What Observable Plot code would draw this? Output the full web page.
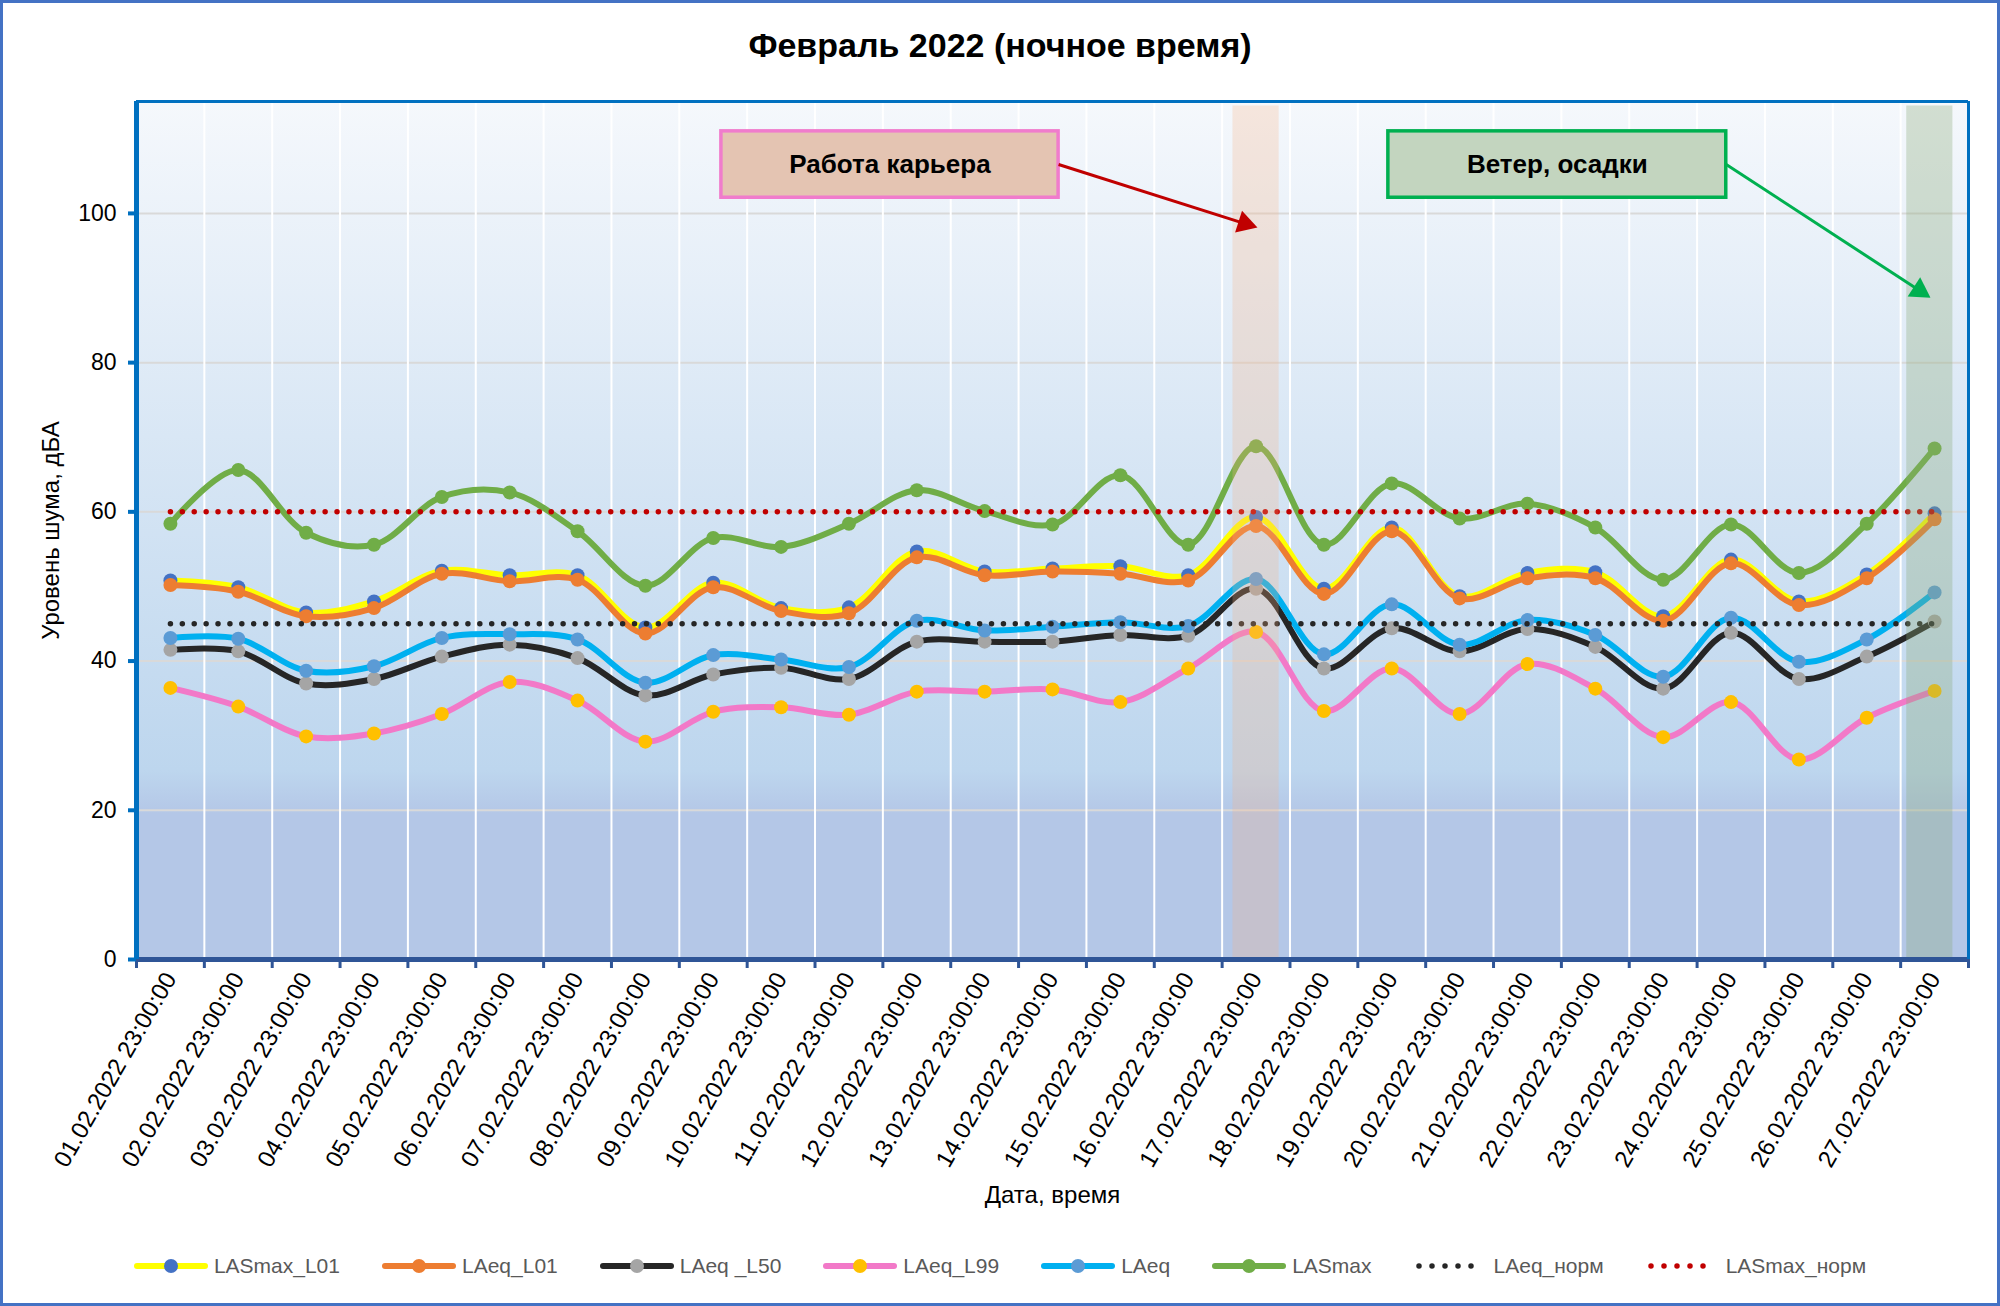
<!DOCTYPE html>
<html>
<head>
<meta charset="utf-8">
<script src="https://cdn.jsdelivr.net/npm/d3@7"></script>
<script src="https://cdn.jsdelivr.net/npm/@observablehq/plot@0.6"></script>
<style>
  html, body { margin: 0; padding: 0; background: #ffffff; }
  #wrap { position: relative; width: 2000px; height: 1306px; overflow: hidden; background: #ffffff;
          font-family: "Liberation Sans", Arial, sans-serif; }
  #border { position: absolute; left: 0; top: 0; width: 2000px; height: 1306px; box-sizing: border-box;
            border: 3px solid #4472c4; pointer-events: none; }
  #title { position: absolute; left: 0; top: 25px; width: 2000px; text-align: center;
           font-weight: bold; font-size: 34px; color: #000; line-height: 40px; }
  #chart { position: absolute; left: 0; top: 0; }
  #legend { position: absolute; left: 0; top: 1254px; width: 2000px; display: flex; justify-content: center;
            align-items: center; gap: 42px; font-size: 21px; color: #595959; }
  .item { display: flex; align-items: center; gap: 6px; }
  .item svg { display: block; }
</style>
</head>
<body>
<div id="wrap">
  <div id="chart"></div>
  <div id="title">Февраль 2022 (ночное время)</div>
  <div id="legend"></div>
  <div id="border"></div>
</div>
<script>
// ---------- data ----------
const dates = [
  "01.02.2022 23:00:00","02.02.2022 23:00:00","03.02.2022 23:00:00","04.02.2022 23:00:00",
  "05.02.2022 23:00:00","06.02.2022 23:00:00","07.02.2022 23:00:00","08.02.2022 23:00:00",
  "09.02.2022 23:00:00","10.02.2022 23:00:00","11.02.2022 23:00:00","12.02.2022 23:00:00",
  "13.02.2022 23:00:00","14.02.2022 23:00:00","15.02.2022 23:00:00","16.02.2022 23:00:00",
  "17.02.2022 23:00:00","18.02.2022 23:00:00","19.02.2022 23:00:00","20.02.2022 23:00:00",
  "21.02.2022 23:00:00","22.02.2022 23:00:00","23.02.2022 23:00:00","24.02.2022 23:00:00",
  "25.02.2022 23:00:00","26.02.2022 23:00:00","27.02.2022 23:00:00"
];
const LASmax_L01 = [50.8,49.9,46.5,48.0,52.1,51.5,51.5,44.5,50.5,47.1,47.2,54.7,52.0,52.4,52.7,51.5,59.3,49.7,57.9,48.7,51.8,51.9,46.0,53.6,48.0,51.6,59.8];
const LAeq_L01   = [50.2,49.3,46.0,47.1,51.7,50.7,50.9,43.7,49.9,46.7,46.4,53.9,51.5,52.0,51.7,50.8,58.1,49.0,57.4,48.4,51.1,51.1,45.4,53.1,47.5,51.1,59.0];
const LAeq_L50   = [41.5,41.3,37.0,37.6,40.6,42.2,40.4,35.4,38.2,39.1,37.6,42.6,42.6,42.6,43.5,43.4,49.7,39.0,44.4,41.3,44.3,41.9,36.3,43.8,37.6,40.6,45.3];
const LAeq_L99   = [36.4,33.9,29.9,30.3,32.9,37.2,34.7,29.2,33.2,33.8,32.8,35.9,35.9,36.2,34.5,39.0,43.9,33.3,39.0,32.9,39.6,36.3,29.8,34.5,26.8,32.4,36.0];
const LAeq       = [43.1,43.0,38.7,39.3,43.1,43.6,42.9,37.1,40.8,40.2,39.2,45.4,44.1,44.6,45.2,44.7,51.0,40.9,47.6,42.2,45.5,43.5,37.9,45.8,39.9,42.9,49.2];
const LASmax     = [58.4,65.6,57.2,55.6,62.0,62.6,57.4,50.1,56.5,55.3,58.4,62.9,60.1,58.3,64.9,55.6,68.8,55.6,63.8,59.1,61.1,57.9,50.9,58.3,51.8,58.4,68.5];
const LAeq_norm   = 45;
const LASmax_norm = 60;
const yTicks = [0, 20, 40, 60, 80, 100];
const yMax = 115;
const highlightDays = ["17.02.2022 23:00:00", "27.02.2022 23:00:00"];
const notes = [
  {text: "Работа карьера", x1: 8.12, x2: 13.09, y1: 102.1, y2: 111.0, ax: 16.02, ay: 98.1},
  {text: "Ветер, осадки",  x1: 17.95, x2: 22.93, y1: 102.1, y2: 111.0, ax: 25.94, ay: 88.7}
];

// ---------- styling ----------
const series = [
  {name: "LASmax_L01", values: LASmax_L01, line: "#ffff00", dot: "#4472c4"},
  {name: "LAeq_L01",   values: LAeq_L01,   line: "#ed7d31", dot: "#ed7d31"},
  {name: "LAeq _L50",  values: LAeq_L50,   line: "#262626", dot: "#a5a5a5"},
  {name: "LAeq_L99",   values: LAeq_L99,   line: "#f279c8", dot: "#ffc000"},
  {name: "LAeq",       values: LAeq,       line: "#00b0f0", dot: "#5b9bd5"},
  {name: "LASmax",     values: LASmax,     line: "#70ad47", dot: "#70ad47"}
];
const norms = [
  {name: "LAeq_норм",   value: LAeq_norm,   color: "#262626"},
  {name: "LASmax_норм", value: LASmax_norm, color: "#c00000"}
];
const noteStyles = [
  {fill: "#e4c4b2", stroke: "#f07ccc", arrow: "#c00000"},
  {fill: "#c3d5bf", stroke: "#00b050", arrow: "#00b050"}
];
const bandStyles = [
  {fill: "#f8b184", opacity: 0.26, left: 0.34, right: 0.34},
  {fill: "#8caa78", opacity: 0.33, left: 0.41, right: 0.27}
];

const W = 2000, H = 1306, mL = 136, mR = 32, mT = 101, mB = 347;
const idx = dates.map((d, i) => i);
const kx = (W - mL - mR) / dates.length;
const ky = (H - mT - mB) / yMax;
const font = "Liberation Sans, Arial, sans-serif";

const background = (index, scales, values, dims) => {
  const g = d3.create("svg:g");
  const lg = g.append("defs").append("linearGradient")
    .attr("id", "bgGrad").attr("x1", 0).attr("y1", 0).attr("x2", 0).attr("y2", 1);
  [[0, "#f5f8fc"], [0.78, "#bdd6ee"], [0.83, "#b4c7e7"], [1, "#b4c7e7"]].forEach(([o, c]) =>
    lg.append("stop").attr("offset", o).attr("stop-color", c));
  g.append("rect")
    .attr("x", dims.marginLeft).attr("y", dims.marginTop)
    .attr("width", dims.width - dims.marginLeft - dims.marginRight)
    .attr("height", dims.height - dims.marginTop - dims.marginBottom)
    .attr("fill", "url(#bgGrad)");
  return g.node();
};

const marks = [background];
// grid
marks.push(Plot.ruleY(yTicks.filter(t => t > 0), {stroke: "#d9d9d9", strokeWidth: 2}));
marks.push(Plot.ruleX(idx.slice(0, -1), {x: i => i + 0.5, stroke: "#ffffff", strokeWidth: 2}));

// series
for (const s of series) {
  marks.push(Plot.line(s.values, {x: (d, i) => i, y: d => d, curve: "catmull-rom",
    stroke: s.line, strokeWidth: 6, strokeLinejoin: "round", strokeLinecap: "round"}));
  marks.push(Plot.dot(s.values, {x: (d, i) => i, y: d => d, r: 7, fill: s.dot, stroke: null}));
}
// norms
for (const n of norms) {
  marks.push(Plot.line(idx, {x: i => i, y: () => n.value, stroke: n.color, strokeWidth: 5.5,
    strokeLinecap: "round", strokeDasharray: "0 11.9"}));
}
// highlight bands (overlay)
highlightDays.forEach((d, k) => {
  const i = dates.indexOf(d);
  const b = bandStyles[k];
  marks.push(Plot.rect([i], {x1: i => i - b.left, x2: i => i + b.right, y1: 0, y2: yMax - 0.6,
    fill: b.fill, fillOpacity: b.opacity}));
});

// annotations
const headR = 8.5;
notes.forEach((n, k) => {
  const st = noteStyles[k];
  const my = (n.y1 + n.y2) / 2;
  marks.push(Plot.rect([n], {x1: "x1", x2: "x2", y1: "y1", y2: "y2", fill: st.fill, stroke: st.stroke, strokeWidth: 3.5}));
  marks.push(Plot.text([n], {x: d => (d.x1 + d.x2) / 2, y: my, text: "text",
    fontSize: 26, fontWeight: "bold", fill: "#000", fontFamily: font}));
  // screen-space direction of the arrow
  const dxs = (n.ax - n.x2) * kx, dys = -(n.ay - my) * ky;
  const len = Math.hypot(dxs, dys);
  const ang = Math.atan2(dys, dxs) * 180 / Math.PI;
  const back = headR * 1.55; // centroid-to-tip distance of the triangle
  const cx = n.ax - (dxs / len) * back / kx;
  const cy = n.ay + (dys / len) * back / ky;
  marks.push(Plot.link([n], {x1: "x2", y1: my, x2: cx, y2: cy, stroke: st.arrow, strokeWidth: 3}));
  marks.push(Plot.dot([n], {x: cx, y: cy, symbol: "triangle", r: headR, fill: st.arrow, stroke: null,
    rotate: 90 + ang}));
});

// axes
marks.push(Plot.ruleY([0], {stroke: "#2f5597", strokeWidth: 5}));
marks.push(Plot.ruleX([-0.5], {stroke: "#0070c0", strokeWidth: 5}));
marks.push(Plot.ruleY([yMax], {stroke: "#0070c0", strokeWidth: 3}));
marks.push(Plot.ruleX([dates.length - 0.5], {stroke: "#0070c0", strokeWidth: 3}));
marks.push(Plot.axisX({ticks: [-0.5, ...idx.map(i => i + 0.5)], tickSize: 9, tickFormat: () => "",
  stroke: "#2f5597", strokeWidth: 3, label: null}));
marks.push(Plot.axisX({ticks: idx, tickSize: 0, tickPadding: 15, tickRotate: -60, tickFormat: i => dates[i],
  fontSize: 24, fill: "#000", label: null}));
marks.push(Plot.axisY({ticks: yTicks, tickSize: 8, tickPadding: 12, stroke: "#0070c0", strokeWidth: 4,
  fontSize: 23, fill: "#000", label: null}));
marks.push(Plot.text(["Уровень шума, дБА"], {frameAnchor: "left", dx: -85, rotate: -90, textAnchor: "middle",
  fontSize: 24, fill: "#000"}));
marks.push(Plot.text(["Дата, время"], {frameAnchor: "bottom", dy: 243, fontSize: 24, fill: "#000"}));

const chart = Plot.plot({
  width: W, height: H,
  marginLeft: mL, marginRight: mR, marginTop: mT, marginBottom: mB,
  x: {domain: [-0.5, dates.length - 0.5]},
  y: {domain: [0, yMax]},
  style: {fontFamily: font, background: "transparent", overflow: "visible"},
  marks
});
document.getElementById("chart").appendChild(chart);

// legend
const legend = document.getElementById("legend");
for (const s of series) {
  const it = document.createElement("div");
  it.className = "item";
  it.innerHTML = `<svg width="74" height="20"><line x1="3" y1="10" x2="71" y2="10" stroke="${s.line}" stroke-width="6" stroke-linecap="round"/><circle cx="37" cy="10" r="7" fill="${s.dot}"/></svg><span>${s.name}</span>`;
  legend.appendChild(it);
}
for (const n of norms) {
  const it = document.createElement("div");
  it.className = "item";
  it.innerHTML = `<svg width="74" height="20"><line x1="5" y1="10" x2="70" y2="10" stroke="${n.color}" stroke-width="5.5" stroke-linecap="round" stroke-dasharray="0 13"/></svg><span>${n.name}</span>`;
  legend.appendChild(it);
}
</script>
</body>
</html>
